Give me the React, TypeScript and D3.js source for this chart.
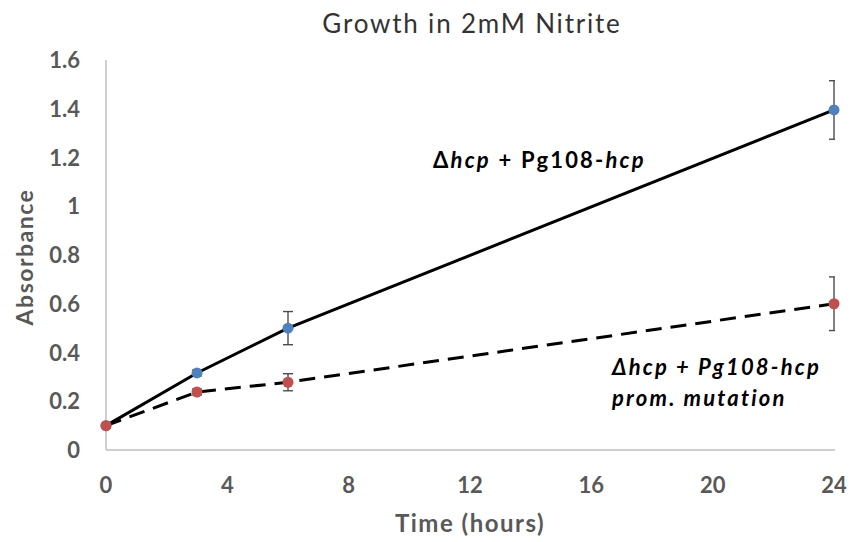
import React from 'react';
import * as d3 from 'd3';

// time points (hours)
const hours = [0, 3, 6, 24];
// Δhcp + Pg108-hcp
const complemented = [0.1, 0.316, 0.5, 1.395];
const complementedErr = [0.01, 0.012, 0.068, 0.12];
// Δhcp + Pg108-hcp prom. mutation
const mutant = [0.1, 0.238, 0.278, 0.6];
const mutantErr = [0.01, 0.012, 0.035, 0.11];

const xTicks = [0, 4, 8, 12, 16, 20, 24];
const yTicks = [0, 0.2, 0.4, 0.6, 0.8, 1, 1.2, 1.4, 1.6];

const W = 851;
const H = 542;
const font = 'Lato, "Open Sans", sans-serif';

const App = () => {
  const x = d3.scaleLinear().domain([0, 24]).range([106, 834]);
  const y = d3.scaleLinear().domain([0, 1.6]).range([450, 60]);

  const line = d3.line<number>()
    .x((d, i) => x(hours[i]))
    .y((d) => y(d));

  const series = [
    { vals: complemented, err: complementedErr, color: '#4F81BD', dash: null },
    { vals: mutant, err: mutantErr, color: '#C0504D', dash: '16,9' },
  ];

  return (
    <svg width={W} height={H} style={{ position: 'absolute', left: 0, top: 0 }}>
      <defs>
        <clipPath id="plot">
          <rect x={106} y={40} width={729} height={420} />
        </clipPath>
      </defs>
      <text x={472} y={33} textAnchor="middle" fontFamily={font} fontSize={26} letterSpacing={1.8}
        fill="#333">
        Growth in 2mM Nitrite
      </text>

      {/* axes */}
      <line x1={x(0)} x2={x(0)} y1={y(1.6)} y2={y(0)} stroke="#bfbfbf" strokeWidth={1.5} />
      <line x1={x(0)} x2={835} y1={y(0)} y2={y(0)} stroke="#bfbfbf" strokeWidth={1.5} />

      {yTicks.map((t) => (
        <text key={t} x={80} y={y(t) + 8} textAnchor="end" fontFamily={font} fontWeight="bold"
          fontSize={22} fill="#595959">{t}</text>
      ))}
      {xTicks.map((t) => (
        <text key={t} x={x(t)} y={493} textAnchor="middle" fontFamily={font} fontWeight="bold"
          fontSize={22} fill="#595959">{t}</text>
      ))}
      <text x={470} y={532} textAnchor="middle" fontFamily={font} fontWeight="bold" fontSize={24}
        letterSpacing={1.5} fill="#595959">Time (hours)</text>
      <text transform={`translate(33,257) rotate(-90)`} textAnchor="middle" fontFamily={font}
        fontWeight="bold" fontSize={23} letterSpacing={1.5} fill="#595959">Absorbance</text>

      {/* error bars */}
      <g clipPath="url(#plot)">
        {series.map((s, si) => s.vals.map((v, i) => (
          <g key={`e${si}-${i}`} stroke="#4d4d4d" strokeWidth={1.4}>
            <line x1={x(hours[i])} x2={x(hours[i])} y1={y(v + s.err[i])} y2={y(v - s.err[i])} />
            <line x1={x(hours[i]) - 5} x2={x(hours[i]) + 5} y1={y(v + s.err[i])} y2={y(v + s.err[i])} />
            <line x1={x(hours[i]) - 5} x2={x(hours[i]) + 5} y1={y(v - s.err[i])} y2={y(v - s.err[i])} />
          </g>
        )))}
      </g>

      {/* lines */}
      {series.map((s, si) => (
        <path key={`l${si}`} d={line(s.vals) || ''} fill="none" stroke="#000" strokeWidth={3}
          strokeDasharray={s.dash || undefined} />
      ))}
      {/* markers */}
      {series.map((s, si) => s.vals.map((v, i) => (
        <circle key={`m${si}-${i}`} cx={x(hours[i])} cy={y(v)} r={5.5} fill={s.color} />
      )))}

      {/* labels */}
      <text x={433} y={168} fontFamily={font} fontWeight="bold" fontSize={22} letterSpacing={2.2}
        fill="#000">
        Δ<tspan fontStyle="italic">hcp</tspan> + Pg108-<tspan fontStyle="italic">hcp</tspan>
      </text>
      <text fontFamily={font} fontWeight="bold" fontStyle="italic" fontSize={22} letterSpacing={2.2}
        fill="#000">
        <tspan x={612} y={375}>Δhcp + Pg108-hcp</tspan>
        <tspan x={612} y={406}>prom. mutation</tspan>
      </text>
    </svg>
  );
};

export default App;
